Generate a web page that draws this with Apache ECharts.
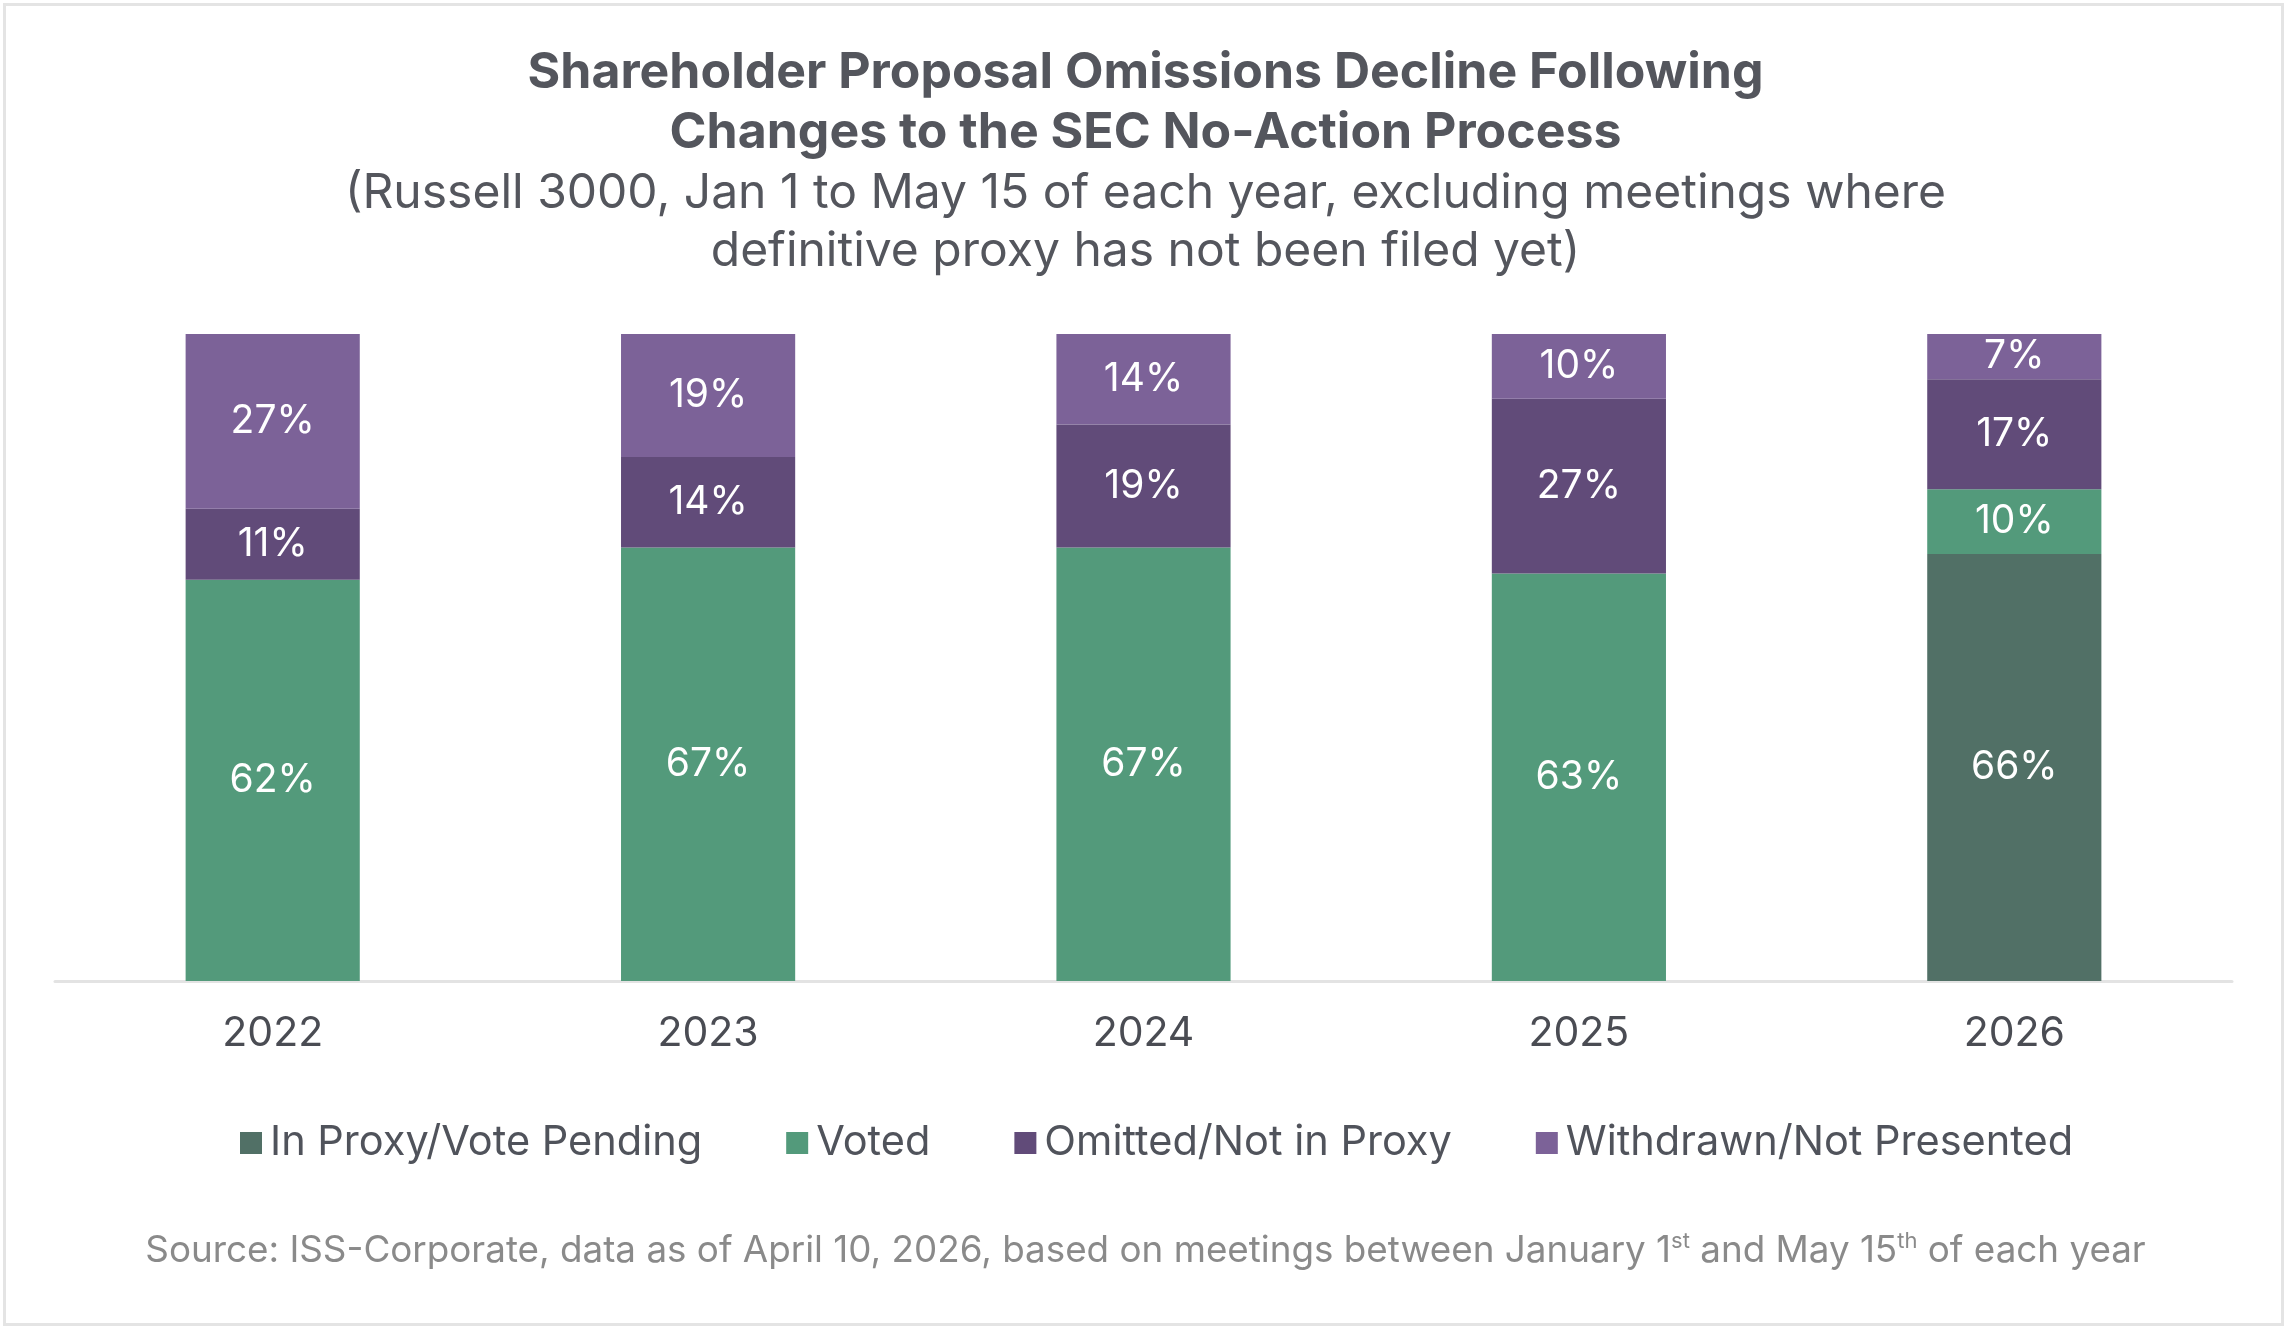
<!DOCTYPE html>
<html>
<head>
<meta charset="utf-8">
<script src="https://cdn.jsdelivr.net/npm/echarts@6/dist/echarts.min.js"></script>
<style>
  html, body { margin: 0; padding: 0; background: #ffffff; }
  #chart { width: 2291px; height: 1333px; }
</style>
</head>
<body>
<div id="chart"></div>
<script>
const years = ['2022', '2023', '2024', '2025', '2026'];
const seriesNames = ['In Proxy/Vote Pending', 'Voted', 'Omitted/Not in Proxy', 'Withdrawn/Not Presented'];
const pending   = [null, null, null, null, 66];
const voted     = [62, 67, 67, 63, 10];
const omitted   = [11, 14, 19, 27, 17];
const withdrawn = [27, 19, 14, 10, 7];
const seriesColors = ['#517066', '#539a7b', '#614b79', '#7c6298'];

const titleText = 'Shareholder Proposal Omissions Decline Following\nChanges to the SEC No-Action Process';
const subtitleText = '(Russell 3000, Jan 1 to May 15 of each year, excluding meetings where\ndefinitive proxy has not been filed yet)';
const sourceText = 'Source: ISS-Corporate, data as of April 10, 2026, based on meetings between January 1{sup|st} and May 15{sup|th} of each year';

const FONT = 'Inter';
const chart = echarts.init(document.getElementById('chart'));

const allData = [pending, voted, omitted, withdrawn];
const series = seriesNames.map((name, i) => ({
  name: name,
  type: 'bar',
  stack: 'total',
  barWidth: '40%',
  data: allData[i],
  itemStyle: { color: seriesColors[i] },
  label: {
    show: true,
    position: 'inside',
    formatter: p => (p.value == null ? '' : p.value + '%'),
    color: '#ffffff',
    fontFamily: FONT,
    fontSize: 39
  },
  emphasis: { disabled: true }
}));

chart.setOption({
  backgroundColor: '#ffffff',
  animation: false,
  textStyle: { fontFamily: FONT },
  graphic: [{
    type: 'rect',
    shape: { x: 4.5, y: 4.5, width: 2278, height: 1320 },
    style: { fill: 'none', stroke: '#e4e4e4', lineWidth: 3 },
    z: 0
  }],
  title: [
    {
      text: titleText,
      left: 'center',
      top: 38,
      textStyle: { fontFamily: FONT, fontWeight: 'bold', fontSize: 50, lineHeight: 60, color: '#54565d' }
    },
    {
      text: subtitleText,
      left: 'center',
      top: 160,
      textStyle: { fontFamily: FONT, fontWeight: 'normal', fontSize: 48, lineHeight: 58, color: '#54565d' }
    },
    {
      text: sourceText,
      left: 'center',
      top: 1225,
      textStyle: {
        fontFamily: FONT, fontWeight: 'normal', fontSize: 36.8, lineHeight: 42, color: '#8a8a8a',
        rich: { sup: { fontFamily: FONT, fontSize: 22, color: '#8a8a8a', verticalAlign: 'top', lineHeight: 42 } }
      }
    }
  ],
  legend: {
    data: seriesNames,
    left: 240,
    top: 1122,
    padding: 0,
    itemWidth: 22,
    itemHeight: 22,
    itemGap: 84,
    icon: 'rect',
    textStyle: { fontFamily: FONT, fontSize: 41.5, color: '#50535b', padding: [0, 0, 0, 3] }
  },
  grid: { left: 55, right: 59, top: 334, bottom: 352, containLabel: false },
  xAxis: {
    type: 'category',
    data: years,
    axisLine: { show: true, lineStyle: { color: '#e3e3e3', width: 3 } },
    axisTick: { show: false },
    axisLabel: { fontFamily: FONT, fontSize: 41, color: '#4a4c53', margin: 32 }
  },
  yAxis: {
    type: 'value',
    min: 0,
    max: 100,
    show: false,
    splitLine: { show: false }
  },
  series: series
});
</script>
</body>
</html>
